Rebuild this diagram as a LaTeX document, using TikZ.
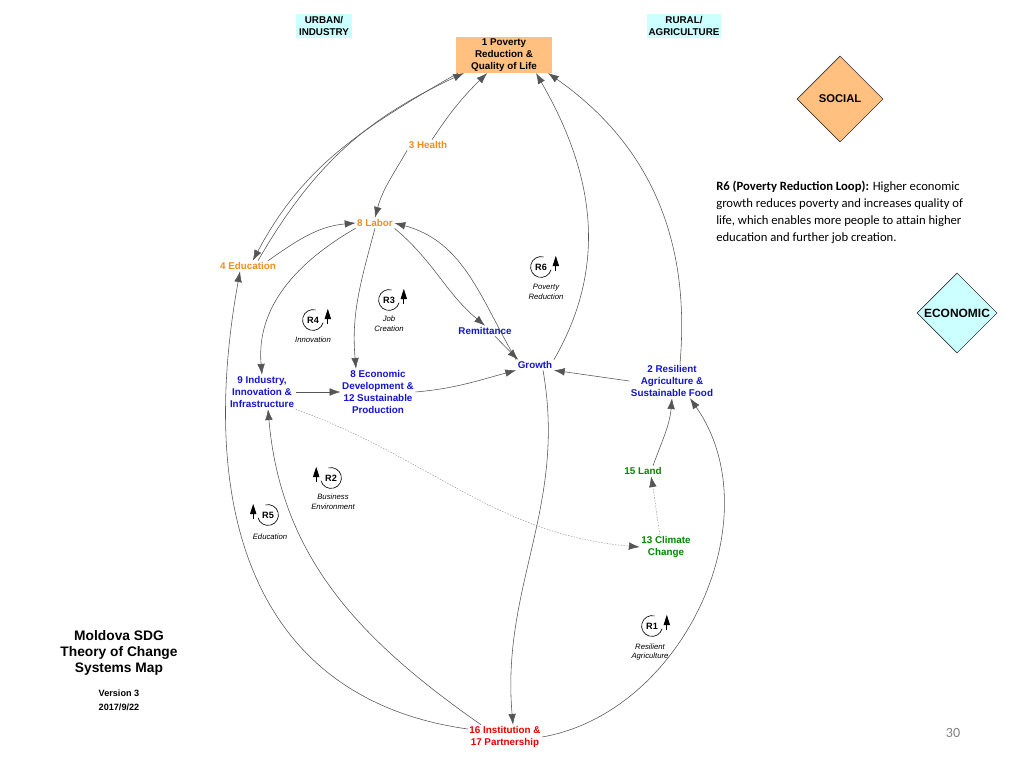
\documentclass[tikz,border=0pt]{standalone}
\usepackage{fontspec}
\setmainfont{Liberation Sans}
\newfontfamily\notefont{Carlito}
\usetikzlibrary{arrows.meta,shapes.geometric,positioning}
\definecolor{cyanfill}{RGB}{204,255,255}
\definecolor{orangefill}{RGB}{255,192,128}
\definecolor{soctxt}{RGB}{242,140,30}
\definecolor{ecotxt}{RGB}{20,20,210}
\definecolor{envtxt}{RGB}{0,135,0}
\definecolor{govtxt}{RGB}{230,0,0}
\definecolor{linkgray}{RGB}{85,85,85}
\tikzset{
  var/.style={font=\fontsize{7}{8.5}\selectfont\bfseries, align=center, inner sep=1pt},
  zone/.style={var, fill=cyanfill, minimum width=1.4cm, minimum height=0.62cm},
  pillar/.style={diamond, draw=black!80, line width=0.4pt, minimum width=2.15cm, minimum height=2.15cm, inner sep=0pt},
  link/.style={draw=linkgray, line width=0.4pt, -{Latex[length=2.7mm,width=1.9mm,color=linkgray]}},
  hint/.style={link, draw=gray!75, dash pattern=on 1pt off 1pt},
  looptag/.style={font=\fontsize{6.5}{7}\selectfont\bfseries, inner sep=0pt},
  loopname/.style={font=\fontsize{5.5}{7}\selectfont\itshape, align=center, inner sep=0pt},
  loopring/.style={line width=0.45pt},
  looptip/.style={line width=0.6pt, -{Triangle[length=2.6mm,width=1.6mm]}}
}
\begin{document}
\begin{tikzpicture}[x=0.025cm, y=-0.025cm]
  \useasboundingbox (0,0) rectangle (1024,768);

  % zones and pillars
  \node[zone] (urban) at (324,26) {URBAN/\\INDUSTRY};
  \node[zone] (rural) at (684,26) {RURAL/\\AGRICULTURE};
  \node[var, fill=orangefill, minimum width=2.4cm, minimum height=0.85cm] (pov) at (504,55) {1 Poverty\\Reduction \&\\Quality of Life};
  \node[pillar, fill=orangefill, label={[font=\fontsize{8}{9}\selectfont\bfseries]center:SOCIAL}] (soc) at (840,99) {};
  \node[pillar, fill=cyanfill, minimum width=2.0cm, minimum height=2.0cm, label={[font=\fontsize{8.5}{9}\selectfont\bfseries]center:ECONOMIC}] (eco) at (957,313) {};

  % variables
  \node[var, text=soctxt] (health) at (428,145) {3 Health};
  \node[var, text=soctxt] (labor) at (375,223) {8 Labor};
  \node[var, text=soctxt] (educ) at (248,266) {4 Education};
  \node[var, text=ecotxt] (remit) at (485,331) {Remittance};
  \node[var, text=ecotxt] (growth) at (535,365) {Growth};
  \node[var, text=ecotxt] (agri) at (672,381) {2 Resilient\\Agriculture \&\\Sustainable Food};
  \node[var, text=ecotxt] (indus) at (262,392) {9 Industry,\\Innovation \&\\Infrastructure};
  \node[var, text=ecotxt] (econ) at (378,392) {8 Economic\\Development \&\\12 Sustainable\\Production};
  \node[var, text=envtxt] (land) at (643,471) {15 Land};
  \node[var, text=envtxt] (clim) at (666,547) {13 Climate\\Change};
  \node[var, text=govtxt] (inst) at (505,737) {16 Institution \&\\17 Partnership};

  % links
  \draw[link] ([xshift=0.1cm]health.north) to[bend left=6] ([xshift=-0.42cm]pov.south);
  \draw[link] ([xshift=0.25cm]educ.north) to[out=60,in=-155] ([xshift=-1.0cm]pov.south);
  \draw[link] ([xshift=-1.15cm]pov.south) to[out=-150,in=62] ([xshift=0.12cm]educ.north);
  \draw[link] ([xshift=0.5cm]educ.north) to[out=35,in=185] (labor.west);
  \draw[link] (health.south west) to[out=-120,in=75] (labor.north);
  \draw[link] (labor.south east) to[out=-40,in=140] (remit.north);
  \draw[link] (labor.south west) to[out=-150,in=95] (indus.north);
  \draw[link] (labor.south) to[out=-105,in=95] ([xshift=-0.55cm]econ.north);
  \draw[link] (growth.north west) to[out=120,in=-15] (labor.east);
  \draw[link] (growth.north east) to[out=60,in=-60] ([xshift=0.8cm]pov.south);
  \draw[link] ([xshift=0.2cm]agri.north) to[out=85,in=-35] ([xshift=1.1cm]pov.south);
  \draw[link] (agri.west) -- (growth.south east);
  \draw[link] ([xshift=0.25cm]remit.south) -- ([xshift=0.05cm]growth.north west);
  \draw[link] (econ.east) to[out=5,in=-165] (growth.south west);
  \draw[link] (indus.east) -- (econ.west);
  \draw[hint] (indus.south east) to[out=-20,in=175] (clim.west);
  \draw[hint] ([xshift=-0.15cm]clim.north) to[out=100,in=-80] ([xshift=0.2cm]land.south);
  \draw[link] ([xshift=0.25cm]land.north) to[out=70,in=-95] (agri.south);
  \draw[link] (inst.east) to[out=10,in=-55] ([xshift=0.45cm]agri.south);
  \draw[link] ([xshift=0.2cm]growth.south) to[out=-80,in=95] ([xshift=0.2cm]inst.north);
  \draw[link] ([xshift=-0.6cm]inst.north) to[out=145,in=-85] ([xshift=0.15cm]indus.south);
  \draw[link, {Latex[length=2.7mm,width=1.9mm,color=linkgray]}-] ([xshift=-0.2cm]educ.south) .. controls (195,520) and (260,700) .. ([yshift=0.2cm]inst.west);

  % loops
  \node[looptag] (r6) at (541,267) {R6};
  \draw[loopring] (r6) ++(75:0.26cm) arc[start angle=75, end angle=345, radius=0.26cm];
  \draw[looptip] ([shift={(0.37cm,-0.1cm)}]r6.center) -- ++(0,0.38cm);
  \node[loopname] at (546,292) {Poverty\\Reduction};

  \node[looptag] (r3) at (389,300) {R3};
  \draw[loopring] (r3) ++(75:0.26cm) arc[start angle=75, end angle=345, radius=0.26cm];
  \draw[looptip] ([shift={(0.37cm,-0.1cm)}]r3.center) -- ++(0,0.38cm);
  \node[loopname] at (389,324) {Job\\Creation};

  \node[looptag] (r4) at (313,320) {R4};
  \draw[loopring] (r4) ++(75:0.26cm) arc[start angle=75, end angle=345, radius=0.26cm];
  \draw[looptip] ([shift={(0.37cm,-0.1cm)}]r4.center) -- ++(0,0.38cm);
  \node[loopname] at (313,340) {Innovation};

  \node[looptag] (r2) at (331,478) {R2};
  \draw[loopring] (r2) ++(105:0.26cm) arc[start angle=105, end angle=-165, radius=0.26cm];
  \draw[looptip] ([shift={(-0.37cm,-0.1cm)}]r2.center) -- ++(0,0.38cm);
  \node[loopname] at (333,502) {Business\\Environment};

  \node[looptag] (r5) at (268,515) {R5};
  \draw[loopring] (r5) ++(105:0.26cm) arc[start angle=105, end angle=-165, radius=0.26cm];
  \draw[looptip] ([shift={(-0.37cm,-0.1cm)}]r5.center) -- ++(0,0.38cm);
  \node[loopname] at (270,537) {Education};

  \node[looptag] (r1) at (652,626) {R1};
  \draw[loopring] (r1) ++(75:0.26cm) arc[start angle=75, end angle=345, radius=0.26cm];
  \draw[looptip] ([shift={(0.37cm,-0.1cm)}]r1.center) -- ++(0,0.38cm);
  \node[loopname] at (650,652) {Resilient\\Agriculture};

  % notes
  \node[anchor=north west, align=left, inner sep=0pt, font=\notefont\fontsize{9}{12}\selectfont] (r6note) at (716,181)
    {\textbf{R6 (Poverty Reduction Loop):} Higher economic\\growth reduces poverty and increases quality of\\life, which enables more people to attain higher\\education and further job creation.};
  \node[align=center, font=\fontsize{9.8}{11.5}\selectfont\bfseries] (title) at (119,653) {Moldova SDG\\Theory of Change\\Systems Map};
  \node[align=center, font=\fontsize{6.5}{10}\selectfont\bfseries] (version) at (119,700) {Version 3\\2017/9/22};
  \node[font=\notefont\fontsize{10}{12}\selectfont, text=gray] (page) at (953,733) {30};
\end{tikzpicture}
\end{document}
